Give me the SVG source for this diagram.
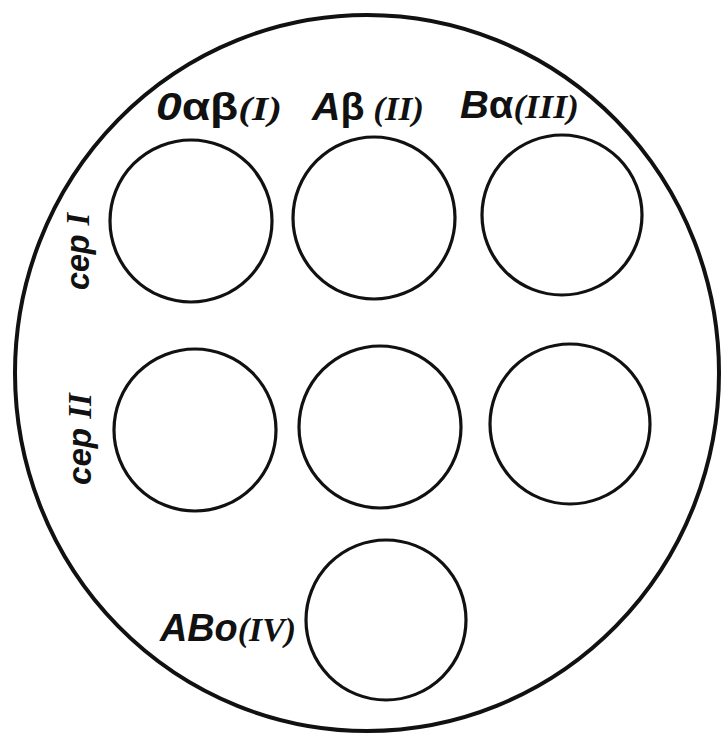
<svg xmlns="http://www.w3.org/2000/svg" width="726" height="739" viewBox="0 0 726 739">
<style>
.plate{fill:none;stroke:#111;stroke-width:4}
.well{fill:none;stroke:#111;stroke-width:3.2}
.lbl{font-family:"Liberation Sans","DejaVu Sans",sans-serif;font-style:italic;font-weight:bold;fill:#111}
.gr{font-style:normal;font-weight:bold}
.num{font-family:"Liberation Serif","DejaVu Serif",serif;font-style:italic;font-weight:bold}
</style>
<rect width="726" height="739" fill="#fff"/>
<g id="plate"><ellipse class="plate" cx="367" cy="373" rx="352" ry="358"/></g>
<g id="well-1"><circle class="well" cx="191" cy="221" r="81"/></g>
<g id="well-2"><circle class="well" cx="374" cy="218" r="81"/></g>
<g id="well-3"><circle class="well" cx="562" cy="215" r="80"/></g>
<g id="well-4"><circle class="well" cx="195" cy="430" r="81"/></g>
<g id="well-5"><circle class="well" cx="380" cy="427" r="81"/></g>
<g id="well-6"><circle class="well" cx="570" cy="424" r="80"/></g>
<g id="well-7"><circle class="well" cx="386" cy="620" r="80"/></g>
<g id="label-I"><text class="lbl" x="156" y="120" font-size="38" textLength="126" lengthAdjust="spacingAndGlyphs">0<tspan class="gr">αβ</tspan><tspan class="num" font-size="34">(I)</tspan></text></g>
<g id="label-II"><text class="lbl" x="312" y="120" font-size="38" textLength="112" lengthAdjust="spacingAndGlyphs">A<tspan class="gr">β</tspan><tspan class="num" font-size="34"> (II)</tspan></text></g>
<g id="label-III"><text class="lbl" x="460" y="118" font-size="38" textLength="119" lengthAdjust="spacingAndGlyphs">B<tspan class="gr">α</tspan><tspan class="num" font-size="34">(III)</tspan></text></g>
<g id="label-IV"><text class="lbl" x="160" y="641" font-size="38" textLength="136" lengthAdjust="spacingAndGlyphs">ABo<tspan class="num" font-size="34">(IV)</tspan></text></g>
<g id="label-ser1"><text class="lbl" transform="translate(89,290) rotate(-90)" font-size="34" textLength="77" lengthAdjust="spacingAndGlyphs">сер <tspan class="num">I</tspan></text></g>
<g id="label-ser2"><text class="lbl" transform="translate(91,485) rotate(-90)" font-size="34" textLength="92" lengthAdjust="spacingAndGlyphs">сер <tspan class="num">II</tspan></text></g>
</svg>
